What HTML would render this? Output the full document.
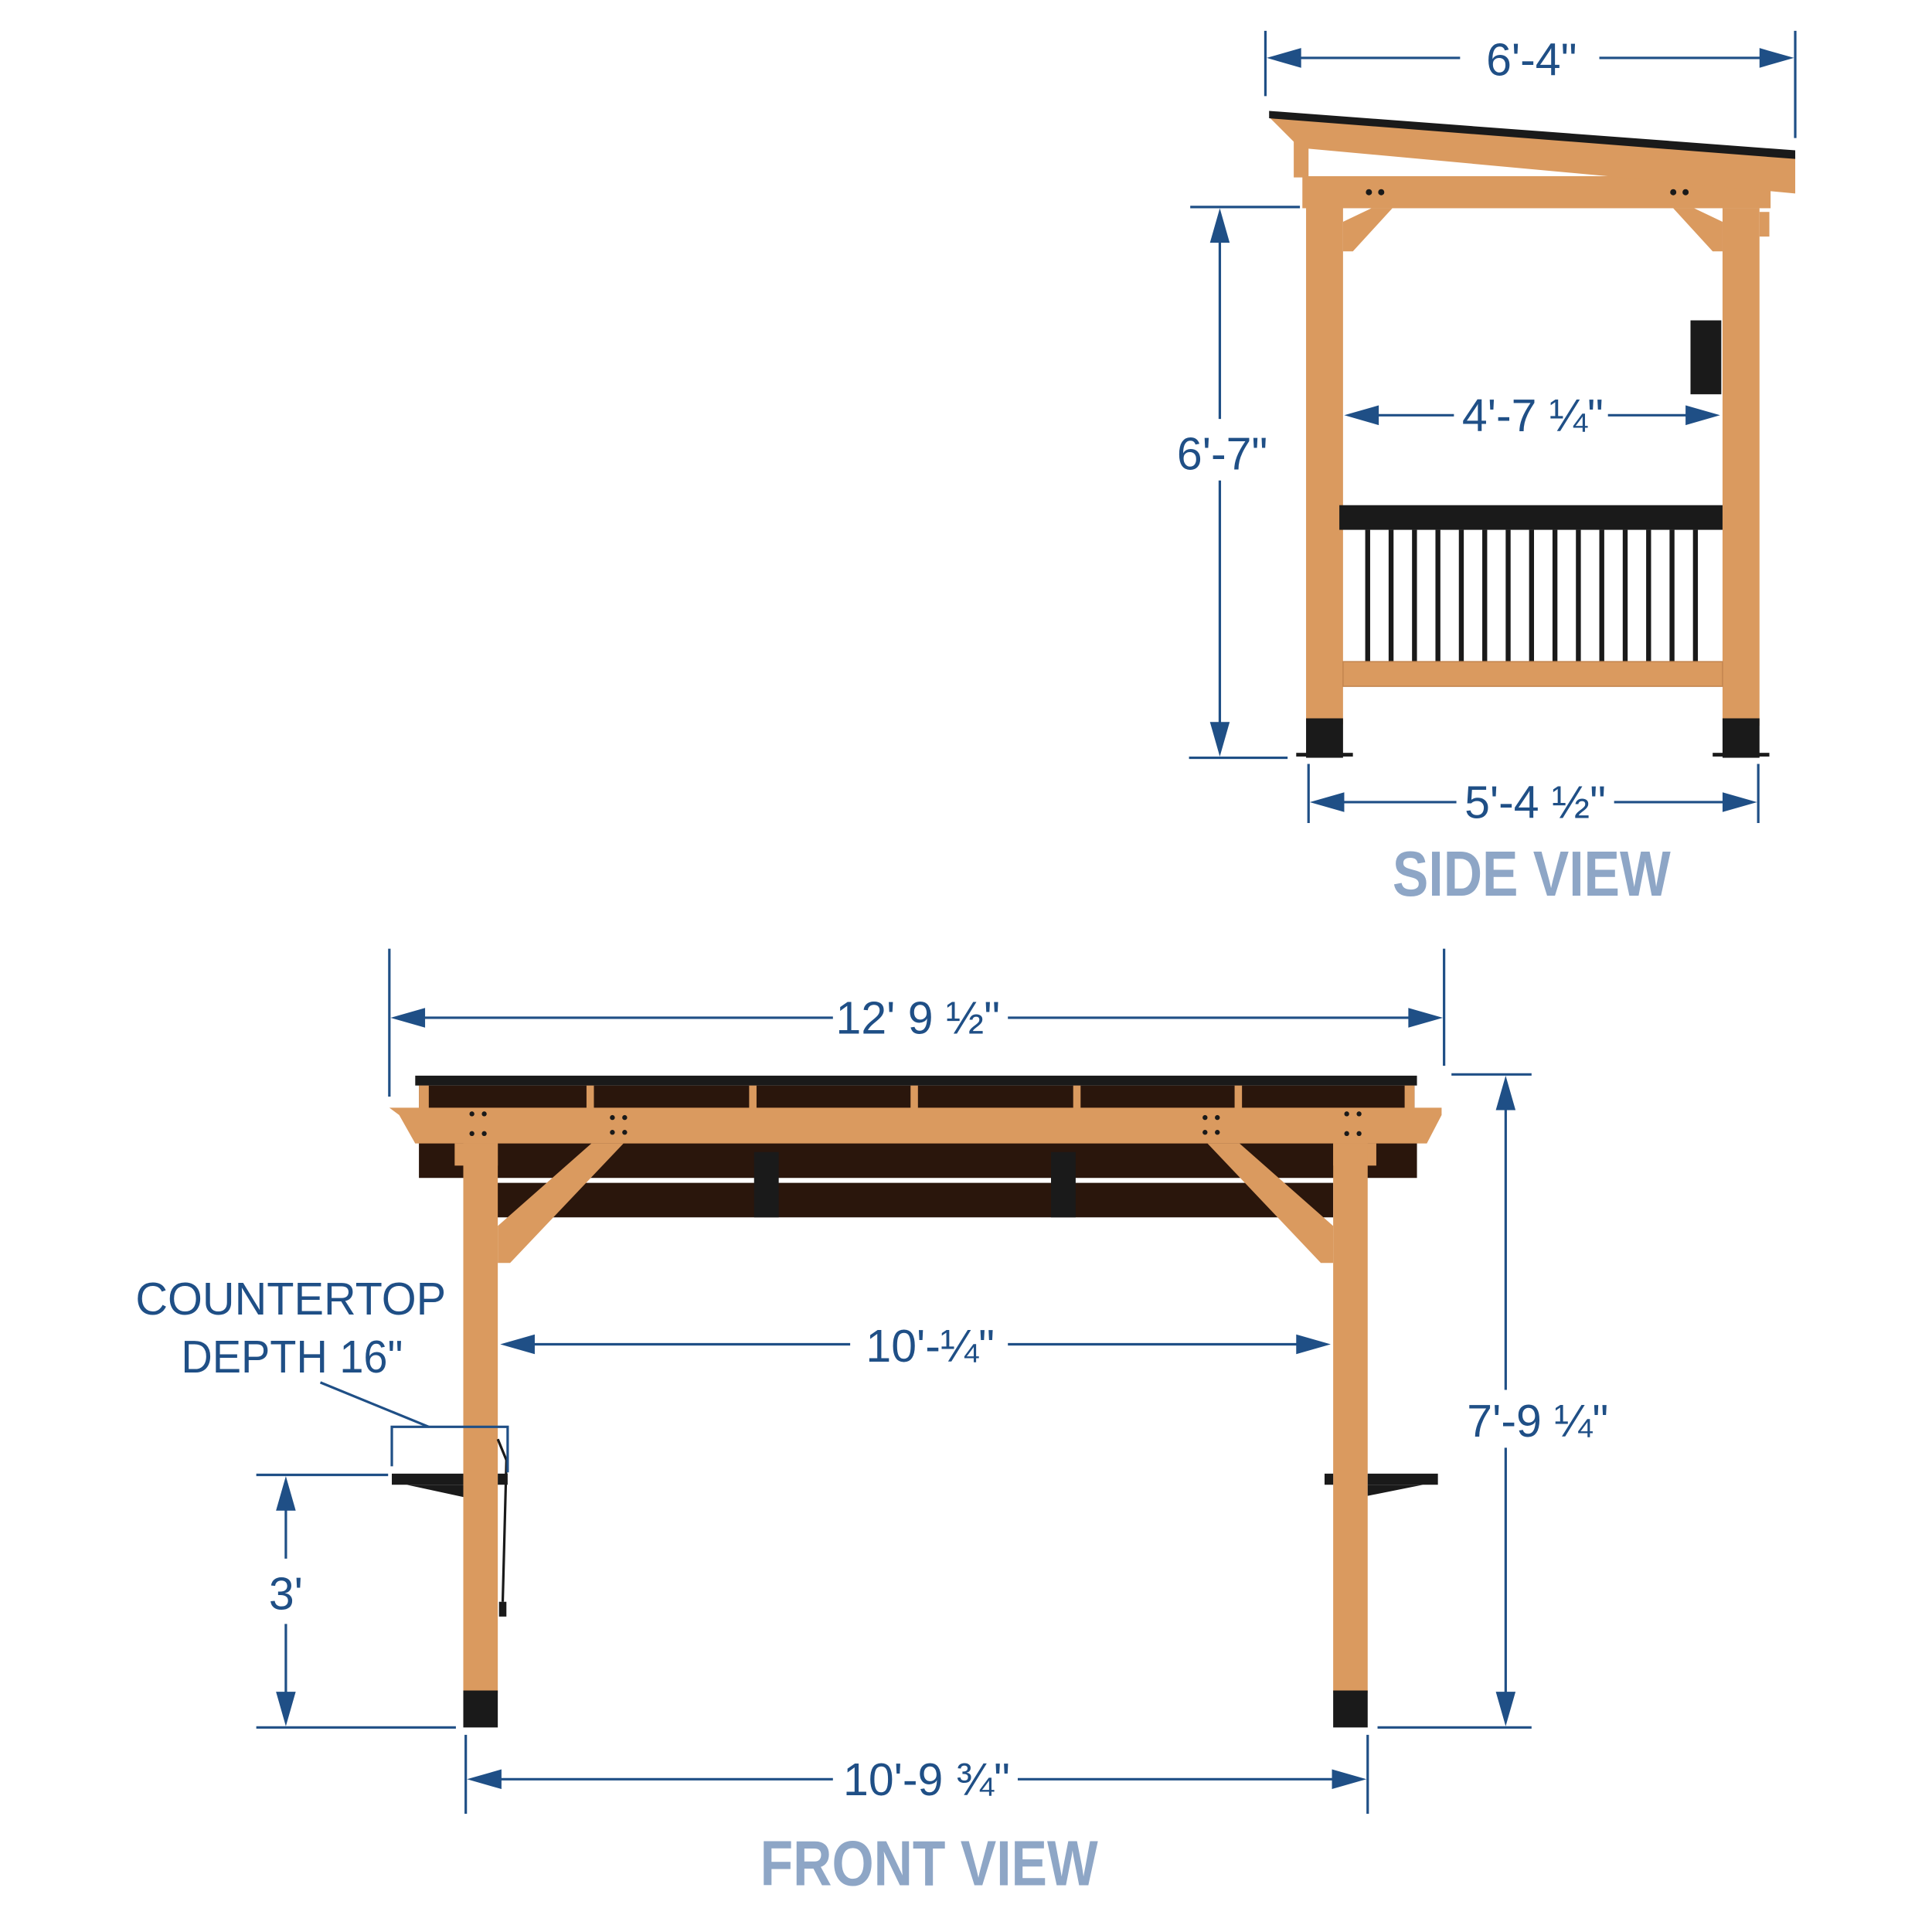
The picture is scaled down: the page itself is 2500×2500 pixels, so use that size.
<!DOCTYPE html>
<html><head><meta charset="utf-8"><style>
html,body{margin:0;padding:0;background:#fff}
svg{display:block}
.t{font-family:"Liberation Sans",sans-serif;fill:#1f4f86;font-size:37px;text-anchor:middle}
.v{font-family:"Liberation Sans",sans-serif;font-weight:bold;fill:#8ea6c6;font-size:52px;text-anchor:middle}
.d{stroke:#1f4f86;stroke-width:2;fill:none}
.a{fill:#1f4f86}
.w{fill:#da9a5f}
.k{fill:#1a1a1a}
.b{fill:#2a160c}
</style></head><body>
<svg width="2500" height="2500" viewBox="0 0 1568 1568" xmlns="http://www.w3.org/2000/svg">
<rect width="1568" height="1568" fill="#fff"/>

<!-- ============ SIDE VIEW ============ -->
<rect class="w" x="1050" y="112" width="12" height="32"/>
<!-- beam -->
<rect class="w" x="1057" y="143" width="380" height="26"/>
<!-- roof -->
<polygon class="w" points="1030,95 1457,128 1457,157 1055,120"/>
<polygon class="k" points="1030,90 1457,122 1457,129 1030,96"/>
<g class="k"><circle cx="1068" cy="150" r="2.5"/><circle cx="1078" cy="150" r="2.5"/><circle cx="1068" cy="162" r="2.5"/><circle cx="1078" cy="162" r="2.5"/><circle cx="1111" cy="156" r="2.5"/><circle cx="1121" cy="156" r="2.5"/><circle cx="1358" cy="156" r="2.5"/><circle cx="1368" cy="156" r="2.5"/></g>
<!-- posts -->
<rect class="w" x="1060" y="143" width="30" height="445"/>
<rect class="w" x="1398" y="169" width="30" height="420"/>
<polygon class="w" points="1090,180 1113,169 1130,169 1098,204 1090,204"/>
<polygon class="w" points="1398,180 1375,169 1358,169 1390,204 1398,204"/>
<rect class="w" x="1428" y="172" width="8" height="20"/>
<rect class="k" x="1060" y="583" width="30" height="32"/>
<rect class="k" x="1398" y="583" width="30" height="32"/>
<rect class="k" x="1052" y="611" width="46" height="3"/>
<rect class="k" x="1390" y="611" width="46" height="3"/>
<!-- grill box -->
<rect class="k" x="1372" y="260" width="25" height="60"/>
<!-- railing -->
<rect class="k" x="1087" y="410" width="311" height="20"/>
<g class="k">
<rect x="1108" y="430" width="4" height="108"/><rect x="1127" y="430" width="4" height="108"/><rect x="1146" y="430" width="4" height="108"/><rect x="1165" y="430" width="4" height="108"/><rect x="1184" y="430" width="4" height="108"/><rect x="1203" y="430" width="4" height="108"/><rect x="1222" y="430" width="4" height="108"/><rect x="1241" y="430" width="4" height="108"/><rect x="1260" y="430" width="4" height="108"/><rect x="1279" y="430" width="4" height="108"/><rect x="1298" y="430" width="4" height="108"/><rect x="1317" y="430" width="4" height="108"/><rect x="1336" y="430" width="4" height="108"/><rect x="1355" y="430" width="4" height="108"/><rect x="1374" y="430" width="4" height="108"/>
</g>
<rect class="w" x="1090" y="537" width="308" height="20" stroke="#c48650" stroke-width="1"/>

<!-- side dims -->
<line class="d" x1="1027" y1="25" x2="1027" y2="78"/>
<line class="d" x1="1457" y1="25" x2="1457" y2="112"/>
<line class="d" x1="1040" y1="47" x2="1185" y2="47"/>
<line class="d" x1="1298" y1="47" x2="1445" y2="47"/>
<polygon class="a" points="1028,47 1056,39 1056,55"/>
<polygon class="a" points="1456,47 1428,39 1428,55"/>
<text class="t" x="1243" y="61">6'-4"</text>

<line class="d" x1="966" y1="168" x2="1055" y2="168"/>
<line class="d" x1="965" y1="615" x2="1045" y2="615"/>
<line class="d" x1="990" y1="180" x2="990" y2="340"/>
<line class="d" x1="990" y1="390" x2="990" y2="605"/>
<polygon class="a" points="990,169 982,197 998,197"/>
<polygon class="a" points="990,614 982,586 998,586"/>
<text class="t" x="992" y="381">6'-7"</text>

<line class="d" x1="1100" y1="337" x2="1180" y2="337"/>
<line class="d" x1="1305" y1="337" x2="1385" y2="337"/>
<polygon class="a" points="1091,337 1119,329 1119,345"/>
<polygon class="a" points="1396,337 1368,329 1368,345"/>
<text class="t" x="1244" y="350">4'-7 ¼"</text>

<line class="d" x1="1062" y1="620" x2="1062" y2="668"/>
<line class="d" x1="1427" y1="620" x2="1427" y2="668"/>
<line class="d" x1="1075" y1="651" x2="1182" y2="651"/>
<line class="d" x1="1310" y1="651" x2="1415" y2="651"/>
<polygon class="a" points="1063,651 1091,643 1091,659"/>
<polygon class="a" points="1426,651 1398,643 1398,659"/>
<text class="t" x="1246" y="664">5'-4 ½"</text>

<text class="v" x="1243" y="727" transform="translate(1243 0) scale(0.84 1) translate(-1243 0)">SIDE VIEW</text>

<!-- ============ FRONT VIEW ============ -->
<rect class="b" x="403" y="960" width="679" height="28"/>
<rect class="b" x="340" y="926" width="810" height="30"/>
<rect class="k" x="612" y="935" width="20" height="53"/>
<rect class="k" x="853" y="935" width="20" height="53"/>
<rect class="k" x="337" y="873" width="813" height="8"/>
<rect class="b" x="340" y="881" width="808" height="20"/>
<g class="w"><rect x="340" y="881" width="8" height="20"/><rect x="476" y="881" width="6" height="20"/><rect x="608" y="881" width="6" height="20"/><rect x="739" y="881" width="6" height="20"/><rect x="871" y="881" width="6" height="20"/><rect x="1002" y="881" width="6" height="20"/><rect x="1140" y="881" width="8" height="20"/></g>
<polygon class="w" points="316,899 1170,899 1170,905 1158,928 337,928 324,905"/>
<g class="k"><circle cx="383" cy="904" r="2"/><circle cx="393" cy="904" r="2"/><circle cx="383" cy="920" r="2"/><circle cx="393" cy="920" r="2"/><circle cx="497" cy="907" r="2"/><circle cx="507" cy="907" r="2"/><circle cx="497" cy="919" r="2"/><circle cx="507" cy="919" r="2"/><circle cx="978" cy="907" r="2"/><circle cx="988" cy="907" r="2"/><circle cx="978" cy="919" r="2"/><circle cx="988" cy="919" r="2"/><circle cx="1093" cy="904" r="2"/><circle cx="1103" cy="904" r="2"/><circle cx="1093" cy="920" r="2"/><circle cx="1103" cy="920" r="2"/></g>
<!-- posts -->
<rect class="w" x="369" y="928" width="35" height="18"/>
<rect class="w" x="1082" y="928" width="35" height="18"/>
<rect class="w" x="376" y="928" width="28" height="446"/>
<rect class="w" x="1082" y="928" width="28" height="446"/>
<polygon class="w" points="404,995 480,928 506,928 414,1025 404,1025"/>
<polygon class="w" points="1082,995 1006,928 980,928 1072,1025 1082,1025"/>
<rect class="k" x="376" y="1372" width="28" height="30"/>
<rect class="k" x="1082" y="1372" width="28" height="30"/>
<!-- shelves -->
<rect class="k" x="318" y="1196" width="58" height="9"/>
<polygon class="k" points="330,1205 376,1205 376,1215"/>
<rect class="k" x="404" y="1196" width="8" height="9"/>
<rect class="k" x="1075" y="1196" width="7" height="9"/>
<rect class="k" x="1110" y="1196" width="57" height="9"/>
<polygon class="k" points="1110,1205 1155,1205 1110,1214"/>
<path d="M404,1168 L411,1185 L408,1300" stroke="#1a1a1a" stroke-width="2" fill="none"/>
<rect class="k" x="405" y="1300" width="6" height="12"/>

<!-- front dims -->
<line class="d" x1="316" y1="770" x2="316" y2="890"/>
<line class="d" x1="1172" y1="770" x2="1172" y2="865"/>
<line class="d" x1="330" y1="826" x2="676" y2="826"/>
<line class="d" x1="818" y1="826" x2="1158" y2="826"/>
<polygon class="a" points="317,826 345,818 345,834"/>
<polygon class="a" points="1171,826 1143,818 1143,834"/>
<text class="t" x="745" y="839">12' 9 ½"</text>

<line class="d" x1="1178" y1="872" x2="1243" y2="872"/>
<line class="d" x1="1118" y1="1402" x2="1243" y2="1402"/>
<line class="d" x1="1222" y1="885" x2="1222" y2="1128"/>
<line class="d" x1="1222" y1="1175" x2="1222" y2="1390"/>
<polygon class="a" points="1222,873 1214,901 1230,901"/>
<polygon class="a" points="1222,1401 1214,1373 1230,1373"/>
<text class="t" x="1248" y="1166">7'-9 ¼"</text>

<line class="d" x1="418" y1="1091" x2="690" y2="1091"/>
<line class="d" x1="818" y1="1091" x2="1068" y2="1091"/>
<polygon class="a" points="406,1091 434,1083 434,1099"/>
<polygon class="a" points="1080,1091 1052,1083 1052,1099"/>
<text class="t" x="755" y="1105">10'-¼"</text>

<line class="d" x1="378" y1="1408" x2="378" y2="1472"/>
<line class="d" x1="1110" y1="1408" x2="1110" y2="1472"/>
<line class="d" x1="392" y1="1444" x2="676" y2="1444"/>
<line class="d" x1="826" y1="1444" x2="1096" y2="1444"/>
<polygon class="a" points="379,1444 407,1436 407,1452"/>
<polygon class="a" points="1109,1444 1081,1436 1081,1452"/>
<text class="t" x="752" y="1457">10'-9 ¾"</text>

<line class="d" x1="208" y1="1197" x2="315" y2="1197"/>
<line class="d" x1="208" y1="1402" x2="370" y2="1402"/>
<line class="d" x1="232" y1="1210" x2="232" y2="1265"/>
<line class="d" x1="232" y1="1318" x2="232" y2="1390"/>
<polygon class="a" points="232,1198 224,1226 240,1226"/>
<polygon class="a" points="232,1401 224,1373 240,1373"/>
<text class="t" x="232" y="1306">3'</text>

<text class="t" x="236" y="1067" textLength="252" lengthAdjust="spacingAndGlyphs">COUNTERTOP</text>
<text class="t" x="237" y="1114" textLength="180" lengthAdjust="spacingAndGlyphs">DEPTH 16"</text>
<line class="d" x1="260" y1="1122" x2="348" y2="1158"/>
<polyline class="d" points="318,1190 318,1158 412,1158 412,1195"/>

<text class="v" x="754" y="1530" transform="translate(754 0) scale(0.84 1) translate(-754 0)">FRONT VIEW</text>
</svg>
</body></html>
